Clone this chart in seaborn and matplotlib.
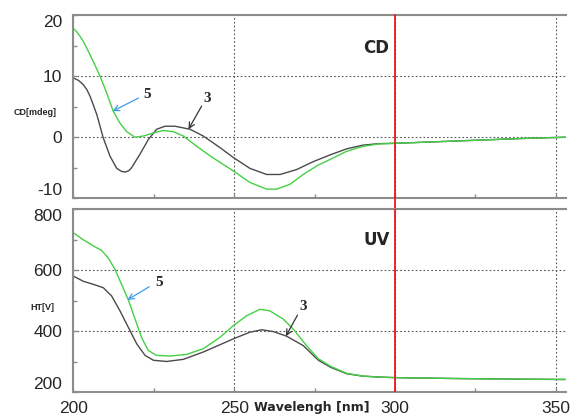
import numpy as np
import pandas as pd
import seaborn as sns
import matplotlib.pyplot as plt
from matplotlib.ticker import MultipleLocator

# CD spectra, values
cd_nm_5 = [200, 201, 202.1, 203.1, 205.2, 208.3, 210.4, 212.4, 214.5, 216.6, 219.2, 221.8, 224.9, 228, 231.1,
           234.2, 238.4, 243.5, 249.7, 254.9, 260.1, 263.2, 267.4, 271.5, 276, 280, 285, 290, 295, 300,
           310, 320, 330, 340, 353]
cd_5 = [17.8, 17.3, 16.5, 15.7, 13.5, 10.0, 7.2, 4.25, 2.3, 0.9, 0.0, 0.2, 0.7, 1.1, 0.9,
        0.2, -1.5, -3.4, -5.5, -7.4, -8.5, -8.5, -7.7, -6.1, -4.6, -3.6, -2.3, -1.5, -1.1, -1.0,
        -0.8, -0.6, -0.4, -0.2, 0.0]
cd_nm_3 = [200, 201.6, 203.1, 204.2, 205.2, 206.2, 207.3, 208.3, 209.3, 211.4, 213.5, 215, 216.1, 217.2,
           218.1, 220.7, 223.3, 225.9, 228.5, 231.6, 236.3, 240.4, 245.6, 249.7, 254.9, 260.1, 264.3,
           269.4, 274.6, 279.8, 285, 290, 295, 300, 310, 320, 330, 340, 353]
cd_3 = [9.7, 9.3, 8.6, 7.8, 6.7, 5.3, 3.7, 1.8, -0.1, -3.1, -5.1, -5.6, -5.7, -5.5,
        -5.0, -2.8, -0.4, 1.3, 1.8, 1.8, 1.3, 0.2, -1.7, -3.3, -5.1, -6.1, -6.1,
        -5.3, -4.0, -2.9, -1.9, -1.3, -1.05, -1.0, -0.8, -0.6, -0.4, -0.2, 0.0]

# UV (HT) spectra
uv_nm_5 = [200, 203.1, 206.2, 208.8, 210.9, 213, 215, 217.1, 219.2, 221.2, 223.3, 225.9, 230.1, 235.2,
           240.4, 245.6, 249.7, 253.9, 258, 261.1, 265.3, 268.4, 272.5, 276.2, 280, 285, 290, 295, 300,
           320, 340, 353]
uv_5 = [723, 700, 680, 665, 640, 602, 554, 503, 440, 380, 337, 321, 319, 324,
        343, 380, 418, 451, 472, 467, 440, 407, 353, 310, 285, 262, 253, 250, 248,
        245, 243, 242]
uv_nm_3 = [200, 203.1, 206.2, 209.3, 211.9, 214.5, 217.1, 219.7, 222.3, 224.9, 229, 234.2, 240.4, 245.6,
           249.7, 254.9, 258.6, 262.2, 266.3, 271.5, 276.2, 280, 285, 290, 295, 300,
           320, 340, 353]
uv_3 = [581, 564, 554, 543, 516, 467, 413, 359, 321, 305, 301, 308, 332, 356,
        375, 397, 405, 399, 384, 353, 305, 282, 261, 253, 250, 248,
        245, 243, 242]

cd_ticks = [-10, 0, 10, 20]
uv_ticks = [200, 400, 600, 800]

green = "#44d044"
dark = "#4a4a4a"
frame = "#8c8c8c"

sns.set_style("white")
plt.rcParams['font.family'] = ['Liberation Sans', 'DejaVu Sans']
plt.rcParams['axes.unicode_minus'] = False

fig = plt.figure(figsize=(5.72, 4.16), dpi=100)
ax1 = fig.add_axes([0.1282, 0.5233, 0.8608, 0.4406])
ax2 = fig.add_axes([0.1282, 0.0570, 0.8608, 0.4399])

sns.lineplot(data=pd.DataFrame({"nm": cd_nm_3, "v": cd_3}), x="nm", y="v", ax=ax1, color=dark, lw=1.0)
sns.lineplot(data=pd.DataFrame({"nm": cd_nm_5, "v": cd_5}), x="nm", y="v", ax=ax1, color=green, lw=1.0)
sns.lineplot(data=pd.DataFrame({"nm": uv_nm_3, "v": uv_3}), x="nm", y="v", ax=ax2, color=dark, lw=1.0)
sns.lineplot(data=pd.DataFrame({"nm": uv_nm_5, "v": uv_5}), x="nm", y="v", ax=ax2, color=green, lw=1.0)

for ax, ticks in ((ax1, cd_ticks), (ax2, uv_ticks)):
    ax.set_xlim(200, 353.1)
    ax.set_ylim(ticks[0], ticks[-1])
    ax.xaxis.set_major_locator(MultipleLocator(50))
    ax.xaxis.set_minor_locator(MultipleLocator(25))
    ax.set_yticks(ticks)
    ax.yaxis.set_minor_locator(MultipleLocator((ticks[1] - ticks[0]) / 2))
    ax.grid(True, which="major", ls=(0, (1.5, 2)), color="#555555", lw=0.8)
    ax.set_axisbelow(True)
    ax.set_xlabel("")
    ax.set_ylabel("")
    for s in ("left", "bottom", "top"):
        ax.spines[s].set_color(frame)
        ax.spines[s].set_linewidth(1.5)
    ax.spines["right"].set_visible(False)
    ax.tick_params(which="both", direction="in", length=3, color=frame, width=1,
                   left=True, bottom=True, labelsize=12.5)
    ax.tick_params(axis="y", pad=8)
    ax.tick_params(axis="x", pad=6)
    # end labels kept inside the panel, as in the original
    ylabs = ax.get_yticklabels()
    ylabs[0].set_va("bottom")
    ylabs[-1].set_va("top")

ax1.tick_params(axis="x", labelbottom=False)

# red marker line at 300 nm through both panels
ax1.axvline(300, ymin=-0.07, ymax=1, color="#e41a1c", lw=1.3, clip_on=False, zorder=3)
ax2.axvline(300, ymin=0, ymax=1, color="#e41a1c", lw=1.3, zorder=3)

ax1.text(0.614, 0.818, "CD", transform=ax1.transAxes, ha="center", va="center",
         fontsize=12, fontweight="bold", family="DejaVu Sans")
ax2.text(0.616, 0.832, "UV", transform=ax2.transAxes, ha="center", va="center",
         fontsize=12, fontweight="bold", family="DejaVu Sans")
ax1.text(-0.078, 0.467, "CD[mdeg]", transform=ax1.transAxes, ha="center", va="center",
         fontsize=6.5, fontweight="bold")
ax2.text(-0.062, 0.466, "HT[V]", transform=ax2.transAxes, ha="center", va="center",
         fontsize=6.5, fontweight="bold")
ax2.text(0.485, -0.083, "Wavelengh [nm]", transform=ax2.transAxes, ha="center", va="center",
         fontsize=9, fontweight="bold", family="DejaVu Sans")

# curve labels
lab = dict(fontsize=11, fontweight="bold", family="Liberation Serif", ha="center", va="center")
ax1.text(222.8, 7.0, "5", **lab)
ax1.annotate("", xy=(212.2, 4.25), xytext=(220.2, 6.4),
             arrowprops=dict(arrowstyle="->", color="#3d9bf0", lw=0.9, shrinkA=0, shrinkB=0))
ax1.text(241.7, 6.3, "3", **lab)
ax1.annotate("", xy=(235.8, 1.3), xytext=(239.9, 5.1),
             arrowprops=dict(arrowstyle="->", color="#333333", lw=0.9, shrinkA=0, shrinkB=0))
ax2.text(226.7, 559, "5", **lab)
ax2.annotate("", xy=(216.8, 503), xytext=(223.6, 546),
             arrowprops=dict(arrowstyle="->", color="#3d9bf0", lw=0.9, shrinkA=0, shrinkB=0))
ax2.text(271.5, 481, "3", **lab)
ax2.annotate("", xy=(266.1, 384), xytext=(269.7, 453),
             arrowprops=dict(arrowstyle="->", color="#333333", lw=0.9, shrinkA=0, shrinkB=0))

fig.savefig("out.png", dpi=100)
